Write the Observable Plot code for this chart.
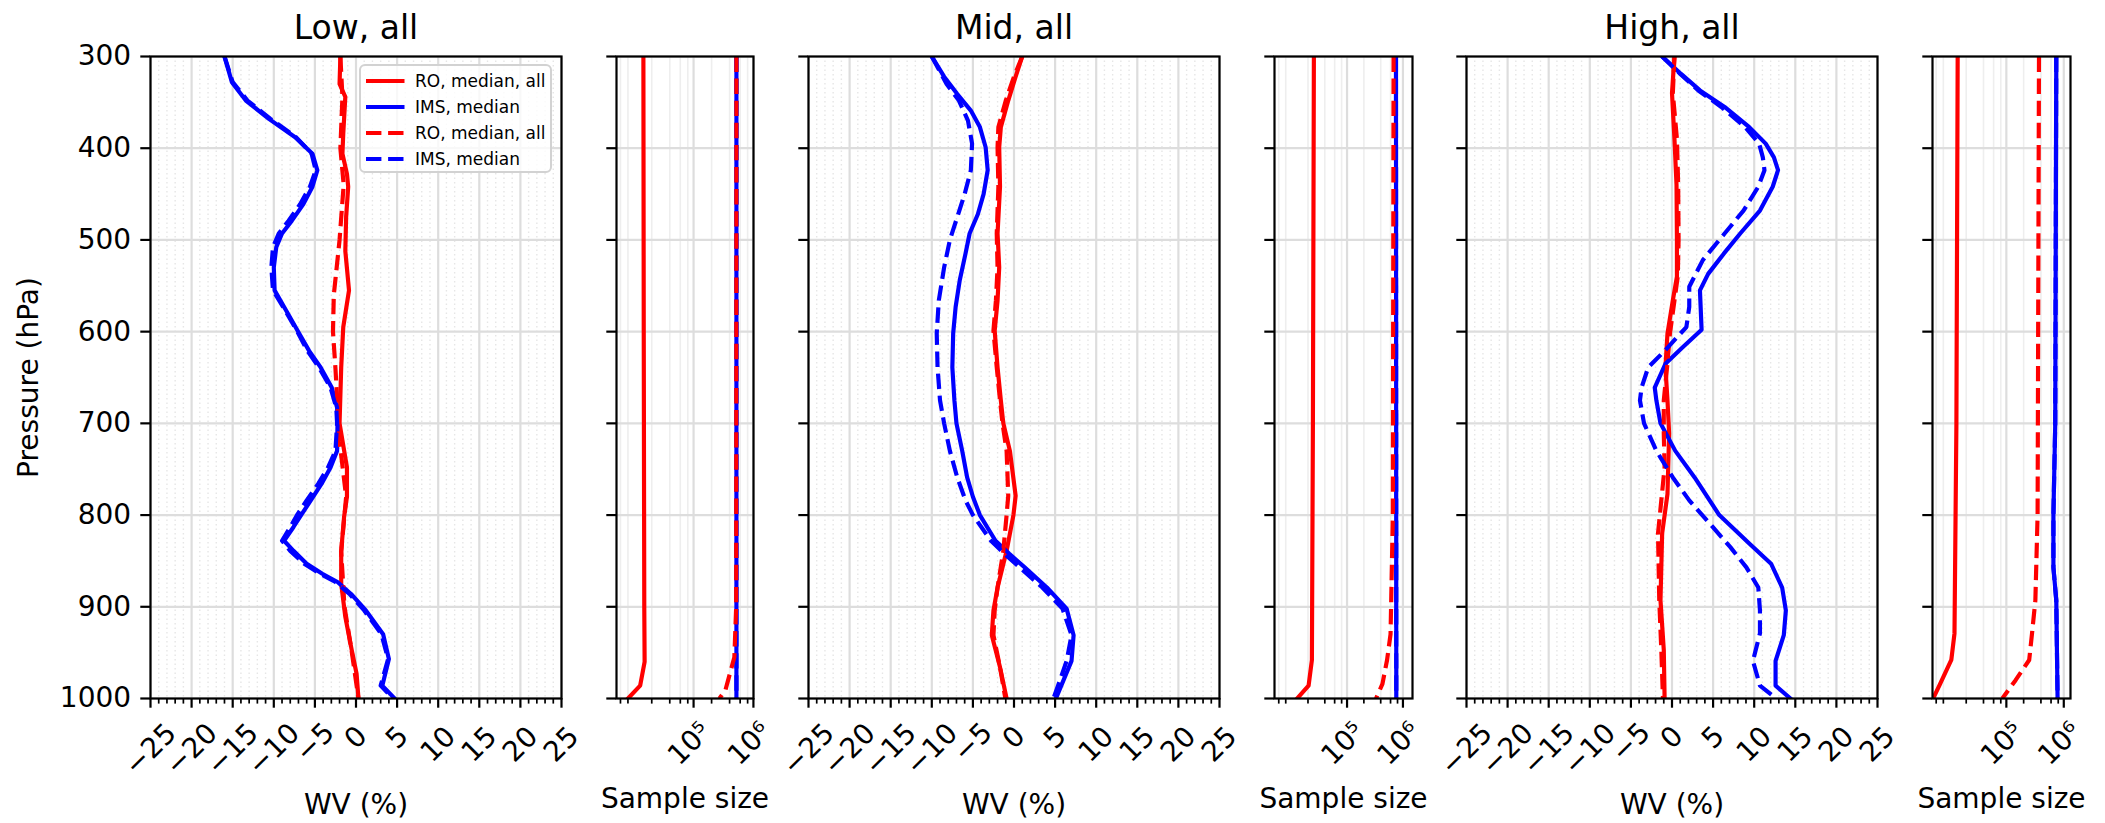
<!DOCTYPE html>
<html><head><meta charset="utf-8">
<script src="https://cdn.jsdelivr.net/npm/d3@7"></script>
<script src="https://cdn.jsdelivr.net/npm/@observablehq/plot@0.6"></script>
<style>
body { margin:0; background:#fff; }
#fig { position:relative; width:2105px; height:823px; overflow:hidden; font-family:"DejaVu Sans"; background:#fff; }
#fig svg { position:absolute; top:0; overflow:visible; background:transparent; }
.legend { position:absolute; left:359px; top:64px; width:189px; height:105px; background:rgba(255,255,255,0.8); border:2.2px solid #d2d2d2; border-radius:6px; }
.legend .row { position:absolute; left:0; height:26px; width:100%; }
.legend .row svg { position:absolute; left:3px; top:0; }
.legend .row span { position:absolute; left:54px; top:0; line-height:26px; font-size:17px; font-family:"DejaVu Sans"; color:#000; white-space:nowrap; }
</style></head>
<body><div id="fig"></div>
<script>
// ---------- axis ticks ----------
const P_TICKS = [300, 400, 500, 600, 700, 800, 900, 1000];
const WV_TICKS = [-25, -20, -15, -10, -5, 0, 5, 10, 15, 20, 25];
const N_MAJOR = [1e5, 1e6];
const N_MAJOR_LABELS = ["10⁵", "10⁶"];
const N_MINOR_SUBS = [2, 4, 6, 8];

// ---------- Low, all : WV (%) ----------
const lowRoP = [300, 330, 344, 384, 406, 428, 442, 475, 512, 555, 595, 639, 700, 748, 780, 802, 839, 875, 911, 948, 973, 1000];
const lowRoV = [-1.9, -2.0, -1.3, -1.55, -1.65, -1.1, -0.95, -1.2, -1.3, -0.85, -1.55, -1.8, -2.0, -1.1, -1.1, -1.45, -1.8, -1.8, -1.3, -0.5, 0.07, 0.3];
const lowImsP = [300, 328, 348, 368, 388, 406, 424, 442, 461, 479, 493, 508, 530, 555, 577, 599, 621, 639, 661, 683, 700, 730, 748, 766, 784, 799, 813, 828, 839, 853, 864, 873, 886, 904, 930, 957, 986, 1000];
const lowImsV = [-16.0, -15.1, -13.4, -10.6, -7.4, -5.3, -4.7, -5.3, -6.4, -7.8, -9.0, -9.7, -10.0, -9.9, -8.5, -7.1, -5.7, -4.3, -2.95, -2.3, -2.25, -2.3, -3.1, -4.2, -5.5, -6.6, -7.6, -8.75, -7.6, -6.0, -4.1, -2.25, -0.6, 1.2, 3.3, 4.0, 3.2, 4.7];
const lowRoDashP = [300, 344, 400, 440, 500, 530, 560, 600, 640, 680, 720, 780, 840, 900, 950, 1000];
const lowRoDashV = [-1.9, -1.65, -1.9, -1.5, -2.0, -2.35, -2.7, -2.8, -2.5, -2.25, -2.0, -1.2, -1.8, -1.4, -0.5, 0.3];
const lowImsDashP = lowImsP;
const lowImsDashV = [-16.0, -15.0, -13.2, -10.4, -7.3, -5.4, -4.9, -5.6, -6.8, -8.2, -9.4, -10.1, -10.3, -10.1, -8.6, -7.2, -5.9, -4.5, -3.1, -2.4, -2.3, -2.5, -3.4, -4.6, -6.0, -7.1, -8.0, -9.0, -8.0, -6.3, -4.4, -2.5, -0.8, 1.0, 3.1, 3.9, 3.0, 4.5];

// ---------- Mid, all : WV (%) ----------
const midRoP = [300, 322, 348, 377, 399, 442, 493, 530, 566, 599, 639, 675, 700, 730, 779, 800, 839, 879, 904, 931, 966, 1000];
const midRoV = [1.0, 0.2, -0.7, -1.6, -1.8, -1.7, -2.0, -1.8, -2.0, -2.35, -2.0, -1.6, -1.3, -0.5, 0.2, -0.07, -0.9, -2.0, -2.5, -2.7, -1.7, -0.9];
const midImsP = [300, 322, 341, 359, 377, 399, 424, 450, 472, 493, 515, 544, 573, 602, 639, 675, 700, 730, 759, 780, 800, 828, 842, 857, 879, 902, 931, 959, 1000];
const midImsV = [-10.0, -8.5, -6.9, -5.25, -4.15, -3.45, -3.2, -3.7, -4.4, -5.4, -5.9, -6.6, -7.1, -7.4, -7.5, -7.25, -7.0, -6.3, -5.7, -5.0, -4.15, -2.25, -0.6, 1.3, 4.0, 6.4, 7.25, 7.0, 5.1];
const midRoDashP = midRoP;
const midRoDashV = [1.0, 0.0, -1.0, -1.9, -2.0, -1.9, -2.1, -2.0, -2.2, -2.5, -2.1, -1.7, -1.4, -0.9, -0.7, -0.9, -1.3, -2.0, -2.35, -2.5, -1.7, -1.05];
const midImsDashP = [300, 330, 348, 370, 395, 424, 450, 475, 500, 530, 566, 602, 639, 675, 700, 730, 759, 784, 800, 828, 842, 857, 879, 902, 931, 959, 980, 1000];
const midImsDashV = [-10.0, -8.2, -6.7, -5.6, -5.1, -5.25, -6.0, -6.9, -7.8, -8.5, -9.15, -9.4, -9.3, -9.0, -8.5, -7.8, -6.9, -5.9, -5.0, -2.8, -1.2, 0.7, 3.45, 5.9, 7.0, 6.4, 5.6, 4.8];

// ---------- High, all : WV (%) ----------
const highRoP = [300, 340, 390, 440, 500, 540, 566, 602, 639, 675, 711, 777, 820, 893, 947, 1000];
const highRoV = [0.3, 0.0, 0.3, 0.55, 0.6, 0.6, 0.1, -0.55, -0.8, -0.55, -0.35, -0.55, -1.2, -1.4, -1.0, -0.9];
const highImsP = [300, 319, 337, 355, 377, 395, 410, 424, 442, 468, 493, 515, 537, 555, 598, 617, 635, 661, 675, 700, 730, 759, 800, 831, 853, 879, 904, 931, 959, 986, 1000];
const highImsV = [-1.2, 1.1, 3.4, 6.4, 9.4, 11.4, 12.4, 12.9, 12.25, 10.7, 8.3, 6.3, 4.4, 3.4, 3.6, 1.3, -0.8, -2.1, -1.9, -1.4, 0.4, 2.75, 5.75, 9.4, 12.05, 13.4, 13.85, 13.6, 12.6, 12.6, 14.4];
const highRoDashP = [300, 340, 390, 440, 500, 540, 566, 602, 639, 675, 711, 748, 820, 893, 947, 1000];
const highRoDashV = [0.3, 0.1, 0.6, 0.75, 0.8, 0.7, 0.3, -0.25, -0.6, -1.0, -1.0, -0.9, -1.7, -1.55, -1.3, -1.1];
const highImsDashP = [300, 319, 337, 355, 377, 395, 410, 424, 442, 468, 493, 522, 551, 573, 595, 621, 639, 661, 675, 700, 730, 759, 784, 813, 835, 857, 879, 904, 929, 959, 986, 1000];
const highImsDashV = [-1.2, 1.0, 3.2, 6.0, 8.9, 10.6, 11.05, 11.25, 10.5, 8.7, 6.4, 3.75, 2.1, 2.1, 1.75, -0.9, -2.9, -3.7, -3.9, -3.4, -1.9, 0.1, 2.1, 4.95, 7.1, 9.05, 10.5, 10.7, 10.7, 9.85, 10.7, 12.7];

// ---------- Sample size ----------
const lowNRoP = [300, 600, 900, 960, 986, 1000];
const lowNRo = [14500, 14700, 15000, 15200, 12800, 8000];
const lowNImsP = [300, 1000];
const lowNIms = [520000, 520000];
const lowNRoDashP = [300, 900, 955, 991, 1000];
const lowNRoDash = [520000, 515000, 480000, 340000, 270000];

const midNRoP = [300, 700, 958, 986, 1000];
const midNRo = [25500, 24500, 23500, 20500, 12800];
const midNImsP = [300, 1000];
const midNIms = [750000, 760000];
const midNRoDashP = [300, 800, 930, 958, 984, 1000];
const midNRoDash = [680000, 660000, 600000, 520000, 430000, 330000];

const highNRoP = [300, 700, 929, 958, 986, 1000];
const highNRo = [14200, 13500, 12500, 11000, 6800, 5300];
const highNImsP = [300, 700, 800, 857, 893, 1000];
const highNIms = [740000, 710000, 660000, 660000, 740000, 780000];
const highNRoDashP = [300, 800, 893, 929, 958, 980, 1000];
const highNRoDash = [370000, 350000, 320000, 280000, 250000, 145000, 85000];

const titles = ["Low, all", "Mid, all", "High, all"];
const legendLabels = ["RO, median, all", "IMS, median", "RO, median, all", "IMS, median"];

// ---------- drawing ----------
const fig = document.getElementById("fig");
const H = 823, MT = 56, MB = 125;
const RED = "#ff0000", BLUE = "#0000ff", LW = 4.17, DASH = "15.4,6.7";
const GRID = "#dddddd", GRID_MINOR = "#e6e6e6";
const STYLE = {fontFamily: "DejaVu Sans", fontSize: "28px", overflow: "visible", background: "transparent"};

const rows = (P, V) => P.map((p, i) => ({p, v: V[i]}));
function lineMark(P, V, color, dashed) {
  const o = {x: "v", y: "p", stroke: color, strokeWidth: LW, strokeLinejoin: "round", clip: true,
             strokeLinecap: dashed ? "butt" : "square"};
  if (dashed) o.strokeDasharray = DASH;
  return Plot.line(rows(P, V), o);
}
const fmtTick = t => t < 0 ? "\u2212" + Math.abs(t) : String(t);
const WV_MINOR = d3.range(-25, 26, 1).filter(d => d % 5 !== 0);

function wvLabelMarks() {
  const groups = new Map();
  for (const t of WV_TICKS) {
    const w = (t < 0 ? 14 : 0) + 17.8 * String(Math.abs(t)).length;
    const dy = Math.round(26 + 0.354 * (w + 20));
    if (!groups.has(dy)) groups.set(dy, []);
    groups.get(dy).push(t);
  }
  return [...groups].map(([dy, ts]) => Plot.text(ts, {x: d => d, text: fmtTick, frameAnchor: "bottom",
    rotate: -45, textAnchor: "middle", lineAnchor: "middle", dy, fontSize: 28}));
}

function commonY(showY) {
  return [
    Plot.axisY({ticks: P_TICKS, tickSize: 9.7, strokeWidth: 2.2, tickPadding: 9.7, fontSize: 28,
      tickFormat: showY ? d => String(d) : () => "", label: null})
  ];
}

function wvPanel(left, ml, mr, title, series, showY) {
  const width = ml + 411 + mr;
  const svg = Plot.plot({
    width, height: H, marginTop: MT, marginBottom: MB, marginLeft: ml, marginRight: mr,
    style: STYLE,
    x: {domain: [-25, 25], axis: null},
    y: {domain: [300, 1000], reverse: true, axis: null},
    marks: [
      Plot.ruleX(WV_MINOR, {stroke: GRID_MINOR, strokeWidth: 1.4, strokeDasharray: "1.5,3"}),
      Plot.ruleX(WV_TICKS, {stroke: GRID, strokeWidth: 2.2}),
      Plot.ruleY(P_TICKS, {stroke: GRID, strokeWidth: 2.2}),
      ...series,
      Plot.frame({stroke: "black", strokeWidth: 2.2}),
      Plot.axisX({ticks: WV_MINOR, tickSize: 5.6, strokeWidth: 1.7, tickFormat: () => "", label: null}),
      Plot.axisX({ticks: WV_TICKS, tickSize: 9.7, strokeWidth: 2.2, tickFormat: () => "", label: null}),
      ...commonY(showY),
      ...wvLabelMarks(),
      Plot.text([title], {text: d => d, frameAnchor: "top", lineAnchor: "bottom", dy: -18, fontSize: 33}),
      Plot.text(["WV (%)"], {text: d => d, frameAnchor: "bottom", lineAnchor: "bottom", dy: 115, fontSize: 28}),
      ...(showY ? [Plot.text(["Pressure (hPa)"], {text: d => d, frameAnchor: "left", rotate: -90,
        lineAnchor: "middle", textAnchor: "middle", dx: -121, fontSize: 28})] : [])
    ]
  });
  svg.style.left = left + "px";
  fig.appendChild(svg);
}

function nPanel(left, ml, plotW, mr, domain, series) {
  const width = ml + plotW + mr;
  const minor = [];
  for (const k of [3, 4, 5, 6]) for (const m of N_MINOR_SUBS) {
    const v = m * 10 ** k;
    if (v >= domain[0] && v <= domain[1]) minor.push(v);
  }
  const major = N_MAJOR.filter(v => v >= domain[0] && v <= domain[1]);
  const labels = major.map(v => ({v, s: N_MAJOR_LABELS[N_MAJOR.indexOf(v)]}));
  const svg = Plot.plot({
    width, height: H, marginTop: MT, marginBottom: MB, marginLeft: ml, marginRight: mr,
    style: STYLE,
    x: {type: "log", domain, axis: null},
    y: {domain: [300, 1000], reverse: true, axis: null},
    marks: [
      Plot.ruleX(minor, {stroke: "#eeeeee", strokeWidth: 1.6}),
      Plot.ruleX(major, {stroke: GRID, strokeWidth: 2.2}),
      Plot.ruleY(P_TICKS, {stroke: GRID, strokeWidth: 2.2}),
      ...series,
      Plot.frame({stroke: "black", strokeWidth: 2.2}),
      Plot.axisX({ticks: minor, tickSize: 5.6, strokeWidth: 1.7, tickFormat: () => "", label: null}),
      Plot.axisX({ticks: major, tickSize: 9.7, strokeWidth: 2.2, tickFormat: () => "", label: null}),
      ...commonY(false),
      Plot.text(labels, {x: "v", text: "s", frameAnchor: "bottom", rotate: -45, textAnchor: "middle",
        lineAnchor: "middle", dy: 45, dx: -4, fontSize: 28}),
      Plot.text(["Sample size"], {text: d => d, frameAnchor: "bottom", lineAnchor: "bottom", dy: 109, fontSize: 28})
    ]
  });
  svg.style.left = left + "px";
  fig.appendChild(svg);
}

const nLine = (P, N, color, dashed) => {
  const o = {x: "v", y: "p", stroke: color, strokeWidth: LW, strokeLinejoin: "round", clip: true,
             strokeLinecap: dashed ? "butt" : "square"};
  if (dashed) o.strokeDasharray = DASH;
  return Plot.line(rows(P, N), o);
};

// Low
wvPanel(0, 150, 27, titles[0], [
  lineMark(lowRoP, lowRoV, RED, false),
  lineMark(lowImsP, lowImsV, BLUE, false),
  lineMark(lowRoDashP, lowRoDashV, RED, true),
  lineMark(lowImsDashP, lowImsDashV, BLUE, true)
], true);
nPanel(588, 28, 137, 27, [10 ** 3.712, 1.003e6], [
  nLine(lowNRoP, lowNRo, RED, false),
  nLine(lowNImsP, lowNIms, BLUE, false),
  nLine(lowNImsP, lowNIms, BLUE, true),
  nLine(lowNRoDashP, lowNRoDash, RED, true)
]);
// Mid
wvPanel(780, 28, 27, titles[1], [
  lineMark(midRoP, midRoV, RED, false),
  lineMark(midImsP, midImsV, BLUE, false),
  lineMark(midRoDashP, midRoDashV, RED, true),
  lineMark(midImsDashP, midImsDashV, BLUE, true)
], false);
nPanel(1246, 28, 138, 26, [10 ** 3.702, 10 ** 6.171], [
  nLine(midNRoP, midNRo, RED, false),
  nLine(midNImsP, midNIms, BLUE, true),
  nLine(midNImsP, midNIms, BLUE, false),
  nLine(midNRoDashP, midNRoDash, RED, true)
]);
// High
wvPanel(1438, 28, 27, titles[2], [
  lineMark(highRoP, highRoV, RED, false),
  lineMark(highImsP, highImsV, BLUE, false),
  lineMark(highRoDashP, highRoDashV, RED, true),
  lineMark(highImsDashP, highImsDashV, BLUE, true)
], false);
nPanel(1904, 28, 138, 35, [10 ** 3.714, 10 ** 6.117], [
  nLine(highNRoP, highNRo, RED, false),
  nLine(highNImsP, highNIms, BLUE, true),
  nLine(highNImsP, highNIms, BLUE, false),
  nLine(highNRoDashP, highNRoDash, RED, true)
]);

// Legend (inside the first panel)
const legend = document.createElement("div");
legend.className = "legend";
const legendColors = [RED, BLUE, RED, BLUE];
const legendDashed = [false, false, true, true];
legendLabels.forEach((lab, i) => {
  const row = document.createElement("div");
  row.className = "row";
  row.style.top = (2 + i * 25.9) + "px";
  const ns = "http://www.w3.org/2000/svg";
  const s = document.createElementNS(ns, "svg");
  s.setAttribute("width", "40"); s.setAttribute("height", "26");
  const l = document.createElementNS(ns, "line");
  l.setAttribute("x1", "2"); l.setAttribute("x2", "40.5");
  l.setAttribute("y1", "13"); l.setAttribute("y2", "13");
  l.setAttribute("stroke", legendColors[i]); l.setAttribute("stroke-width", LW);
  if (legendDashed[i]) l.setAttribute("stroke-dasharray", DASH);
  s.appendChild(l);
  const t = document.createElement("span");
  t.textContent = lab;
  row.appendChild(s); row.appendChild(t);
  legend.appendChild(row);
});
fig.appendChild(legend);
</script></body></html>
